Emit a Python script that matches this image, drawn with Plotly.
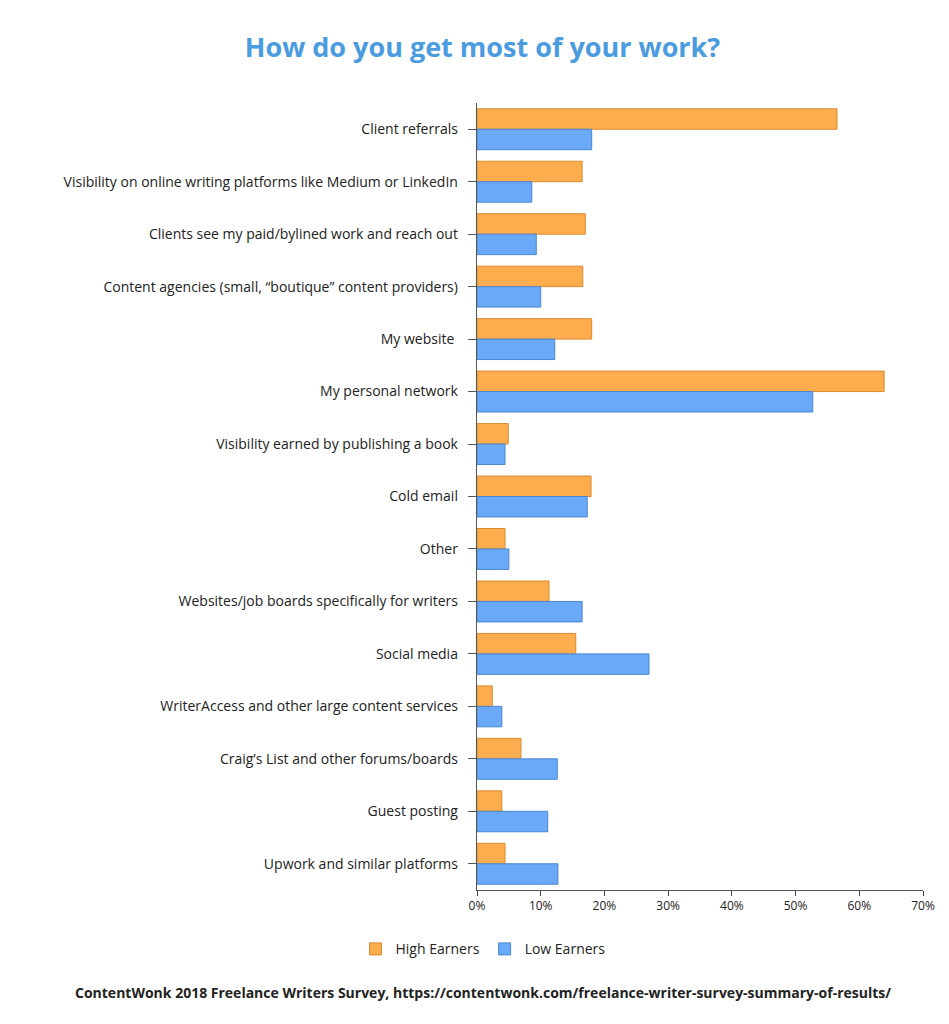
import plotly.graph_objects as go

categories = [
    "Client referrals",
    "Visibility on online writing platforms like Medium or LinkedIn",
    "Clients see my paid/bylined work and reach out",
    "Content agencies (small, “boutique” content providers)",
    "My website ",
    "My personal network",
    "Visibility earned by publishing a book",
    "Cold email",
    "Other",
    "Websites/job boards specifically for writers",
    "Social media",
    "WriterAccess and other large content services",
    "Craig’s List and other forums/boards",
    "Guest posting",
    "Upwork and similar platforms",
]
high_earners = [56.5, 16.5, 17.0, 16.6, 18.0, 63.9, 4.9, 17.9, 4.4, 11.3, 15.5, 2.4, 6.9, 3.9, 4.4]
low_earners = [18.0, 8.6, 9.3, 10.0, 12.2, 52.7, 4.4, 17.3, 5.0, 16.5, 27.0, 3.9, 12.6, 11.1, 12.7]

fig = go.Figure()
fig.add_bar(y=categories, x=high_earners, name="High Earners", orientation="h",
            marker=dict(color="#FDAD4E", line=dict(color="#D98A2E", width=1)))
fig.add_bar(y=categories, x=low_earners, name="Low Earners", orientation="h",
            marker=dict(color="#6AA9F8", line=dict(color="#4A86D0", width=1)))

plot_w = 949 - 469 - 34
fig.update_layout(
    width=949, height=1024,
    paper_bgcolor="white", plot_bgcolor="white",
    font=dict(family="Open Sans", size=14, color="#222"),
    title=dict(text="<b>How do you get most of your work?</b>", x=0.5, y=0.961,
               xanchor="center", yanchor="middle", font=dict(size=27, color="#4A9BE0")),
    margin=dict(l=469, r=34, t=95, b=142, autoexpand=False),
    barmode="group", bargap=0.22, bargroupgap=0.0,
    legend=dict(orientation="h", x=(475 - 469) / plot_w, xanchor="center", y=-0.055, yanchor="top",
                font=dict(size=14)),
    xaxis=dict(range=[0, 70], dtick=10, ticksuffix="%", showgrid=False,
               showline=True, linecolor="#555", ticks="outside", ticklen=5,
               tickfont=dict(size=12), zeroline=False, automargin=False),
    yaxis=dict(autorange="reversed", showline=True, linecolor="#555", automargin=False,
               ticks="outside", ticklen=8, tickcolor="#555", ticksuffix="  "),
)
fig.add_annotation(text="<b>ContentWonk 2018 Freelance Writers Survey, https://contentwonk.com/freelance-writer-survey-summary-of-results/</b>",
                   x=(949 / 2 - 469) / plot_w, xref="paper", xanchor="center",
                   y=-0.145, yref="paper",
                   showarrow=False, font=dict(size=14, color="#222"))
fig.write_html("out.html")
